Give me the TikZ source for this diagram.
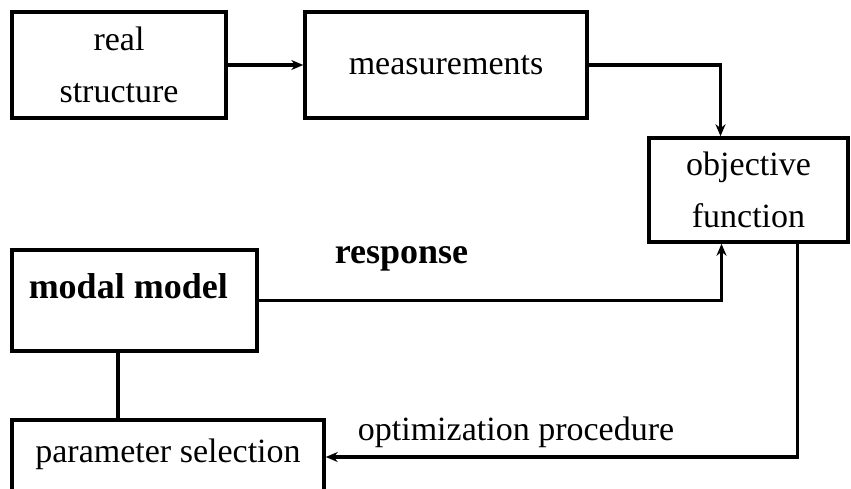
\documentclass[tikz,border=0pt]{standalone}
\usepackage{fontspec}
\setmainfont{Liberation Serif}
\usetikzlibrary{arrows.meta}
\tikzset{
  blk/.style={draw,line width=3.5pt,align=center,inner sep=0pt,font=\fontsize{34}{52}\selectfont},
  lbl/.style={inner sep=0pt,font=\fontsize{34}{40}\selectfont},
  blbl/.style={inner sep=0pt,font=\fontsize{36}{40}\selectfont\bfseries}
}
\begin{document}
\begin{tikzpicture}[x=1pt,y=-1pt,line width=3.5pt,line cap=butt,line join=miter,>={Stealth[length=12pt,width=10pt]}]
			\useasboundingbox (0,0) rectangle (851,488);
			\node[blk,minimum width=214pt,minimum height=106pt] (real) at (119,65) {real\\structure};
			\node[blk,minimum width=282pt,minimum height=106pt] (meas) at (446,65) {measurements};
			\node[blk,minimum width=199pt,minimum height=104pt] (obj) at (748.5,190) {objective\\function};
			\node[draw,minimum width=245pt,minimum height=101pt] (modal) at (134.5,300.5) {};
			\node[blbl,anchor=base west] (modaltxt) at (27,298) {modal model};
			\node[blk,minimum width=312pt,minimum height=84pt,text depth=23pt] (param) at (168,462) {parameter selection};
			\draw[->] (real.east)--(meas.west);
			\draw[->] (meas.east)-|([xshift=-28pt]obj.north);
			\draw[->] (modal.east)-|([xshift=-27pt]obj.south);
			\node[blbl,anchor=base] (resp) at (401.5,263) {response};
			\draw (modal.south -| 118,0)--(param.north -| 118,0);
			\draw[->] ([xshift=49pt]obj.south)|-([yshift=5pt]param.east);
			\node[lbl,anchor=base] (opt) at (516,440) {optimization procedure};
		\end{tikzpicture}
\end{document}
